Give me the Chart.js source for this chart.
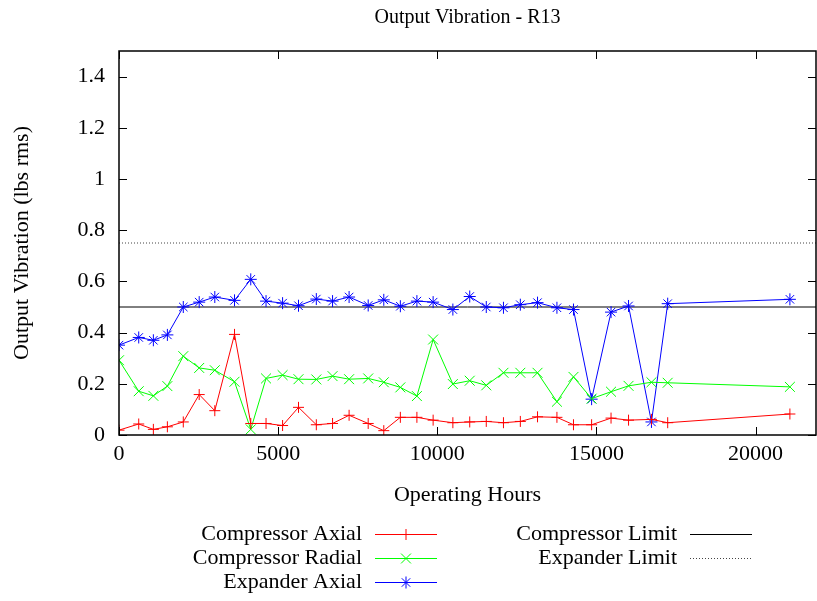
<!DOCTYPE html>
<html>
<head>
<meta charset="utf-8">
<script src="https://cdn.jsdelivr.net/npm/chart.js@4/dist/chart.umd.min.js"></script>
<style>
  html, body { margin: 0; padding: 0; background: #fff; }
</style>
</head>
<body>
<canvas id="myChart" width="817" height="601"></canvas>
<script>
const hours = [0, 620, 1080, 1520, 2020, 2520, 3010, 3630, 4140, 4620, 5140, 5640, 6200, 6710, 7230,
  7830, 8320, 8840, 9360, 9870, 10490, 11020, 11540, 12080, 12610, 13150, 13760, 14280, 14850,
  15460, 16010, 16730, 17240, 21080];
const compressorAxial = [0.019, 0.043, 0.022, 0.032, 0.051, 0.158, 0.095, 0.393, 0.045, 0.045, 0.037, 0.108, 0.040, 0.045, 0.077,
  0.045, 0.017, 0.069, 0.069, 0.058, 0.048, 0.051, 0.053, 0.048, 0.053, 0.071, 0.069, 0.040, 0.040,
  0.066, 0.058, 0.061, 0.048, 0.082];
const compressorRadial = [0.292, 0.171, 0.153, 0.191, 0.308, 0.262, 0.253, 0.208, 0.022, 0.221, 0.234, 0.218, 0.217, 0.230, 0.218,
  0.221, 0.206, 0.186, 0.152, 0.373, 0.199, 0.212, 0.194, 0.243, 0.243, 0.243, 0.130, 0.227, 0.142,
  0.169, 0.192, 0.206, 0.204, 0.188];
const expanderAxial = [0.351, 0.381, 0.370, 0.391, 0.500, 0.519, 0.539, 0.526, 0.608, 0.523, 0.515, 0.505, 0.531, 0.523, 0.539,
  0.506, 0.528, 0.503, 0.523, 0.519, 0.490, 0.541, 0.500, 0.497, 0.509, 0.517, 0.497, 0.490, 0.140,
  0.480, 0.504, 0.051, 0.513, 0.530];
const compressorLimit = 0.5;
const expanderLimit = 0.75;
const xTicks = [0, 5000, 10000, 15000, 20000];
const yTicks = [0, 0.2, 0.4, 0.6, 0.8, 1, 1.2, 1.4];
const xMax = 21900;
const yMax = 1.5;

const FONT = "'Liberation Serif', 'Times New Roman', serif";
const ctx = document.getElementById('myChart');

function series(ys) {
  return hours.map((h, i) => ({ x: h, y: ys[i] }));
}

const datasets = [
  { label: 'Compressor Axial', data: series(compressorAxial), borderColor: '#ff0000', pointStyle: 'cross', pointRadius: 5.5 },
  { label: 'Compressor Radial', data: series(compressorRadial), borderColor: '#00ff00', pointStyle: 'crossRot', pointRadius: 7 },
  { label: 'Expander Axial', data: series(expanderAxial), borderColor: '#0000ff', pointStyle: 'star', pointRadius: 6 },
  { label: 'Compressor Limit', data: [{ x: 0, y: compressorLimit }, { x: xMax, y: compressorLimit }], borderColor: '#000000', pointRadius: 0 },
  { label: 'Expander Limit', data: [{ x: 0, y: expanderLimit }, { x: xMax, y: expanderLimit }], borderColor: '#444444', borderDash: [1, 2], pointRadius: 0 }
].map(d => Object.assign({
  showLine: true,
  borderWidth: 1,
  pointBorderColor: d.borderColor,
  pointBackgroundColor: d.borderColor,
  pointBorderWidth: 1,
  pointHoverRadius: d.pointRadius,
  tension: 0
}, d));

// frame, inward ticks, titles and the gnuplot style key
const decor = {
  id: 'decor',
  afterDraw(chart) {
    const c = chart.ctx;
    const a = chart.chartArea;
    const xs = chart.scales.x, ys = chart.scales.y;
    c.save();
    c.strokeStyle = '#000';
    c.lineWidth = 1;
    c.beginPath();
    xTicks.forEach(v => {
      const px = Math.round(xs.getPixelForValue(v)) + 0.5;
      c.moveTo(px, a.bottom); c.lineTo(px, a.bottom - 8);
      c.moveTo(px, a.top); c.lineTo(px, a.top + 8);
    });
    yTicks.forEach(v => {
      const py = Math.round(ys.getPixelForValue(v)) + 0.5;
      c.moveTo(a.left, py); c.lineTo(a.left + 8, py);
      c.moveTo(a.right, py); c.lineTo(a.right - 8, py);
    });
    c.stroke();
    c.lineWidth = 1.5;
    c.strokeRect(a.left, a.top, a.right - a.left, a.bottom - a.top);

    c.fillStyle = '#000';
    c.font = '20px ' + FONT;
    c.textAlign = 'center';
    c.textBaseline = 'middle';
    const cx = (a.left + a.right) / 2;
    c.fillText('Output Vibration - R13', cx, 18);
    c.font = '22px ' + FONT;
    c.fillText('Operating Hours', cx, 495);
    c.save();
    c.translate(22, (a.top + a.bottom) / 2);
    c.rotate(-Math.PI / 2);
    c.fillText('Output Vibration (lbs rms)', 0, 0);
    c.restore();

    const slots = [[362, 534], [362, 558], [362, 582], [677, 534], [677, 558]];
    chart.data.datasets.forEach((ds, i) => {
      const [tx, ty] = slots[i];
      c.font = '22px ' + FONT;
      c.textAlign = 'right';
      c.fillStyle = '#000';
      c.fillText(ds.label, tx, ty);
      c.strokeStyle = ds.borderColor;
      c.lineWidth = 1;
      c.setLineDash(ds.borderDash || []);
      c.beginPath();
      c.moveTo(tx + 13, ty + 0.5);
      c.lineTo(tx + 75, ty + 0.5);
      c.stroke();
      c.setLineDash([]);
      if (ds.pointRadius > 0) {
        c.fillStyle = ds.borderColor;
        Chart.helpers.drawPoint(c, { pointStyle: ds.pointStyle, radius: ds.pointRadius, borderWidth: 1, rotation: 0 }, tx + 44, ty + 0.5);
      }
    });
    c.restore();
  }
};

new Chart(ctx, {
  type: 'scatter',
  data: { datasets: datasets },
  options: {
    responsive: false,
    animation: false,
    layout: { autoPadding: false, padding: { top: 51, right: 1, left: 0, bottom: 0 } },
    plugins: { legend: { display: false }, tooltip: { enabled: false }, title: { display: false } },
    scales: {
      x: {
        type: 'linear',
        min: 0,
        max: xMax,
        grid: { display: false, drawTicks: false },
        border: { display: false },
        afterBuildTicks: s => { s.ticks = xTicks.map(v => ({ value: v })); },
        afterFit: s => { s.height = 166; s.paddingLeft = 0; s.paddingRight = 0; },
        ticks: { padding: 6, color: '#000', font: { family: FONT, size: 22 }, maxRotation: 0, callback: v => String(v) }
      },
      y: {
        type: 'linear',
        min: 0,
        max: yMax,
        grid: { display: false, drawTicks: false },
        border: { display: false },
        afterBuildTicks: s => { s.ticks = yTicks.map(v => ({ value: v })); },
        afterFit: s => { s.width = 119; s.paddingTop = 0; s.paddingBottom = 0; },
        ticks: { padding: 14, color: '#000', font: { family: FONT, size: 22 }, callback: v => String(Math.round(v * 10) / 10) }
      }
    }
  },
  plugins: [decor]
});
</script>
</body>
</html>
